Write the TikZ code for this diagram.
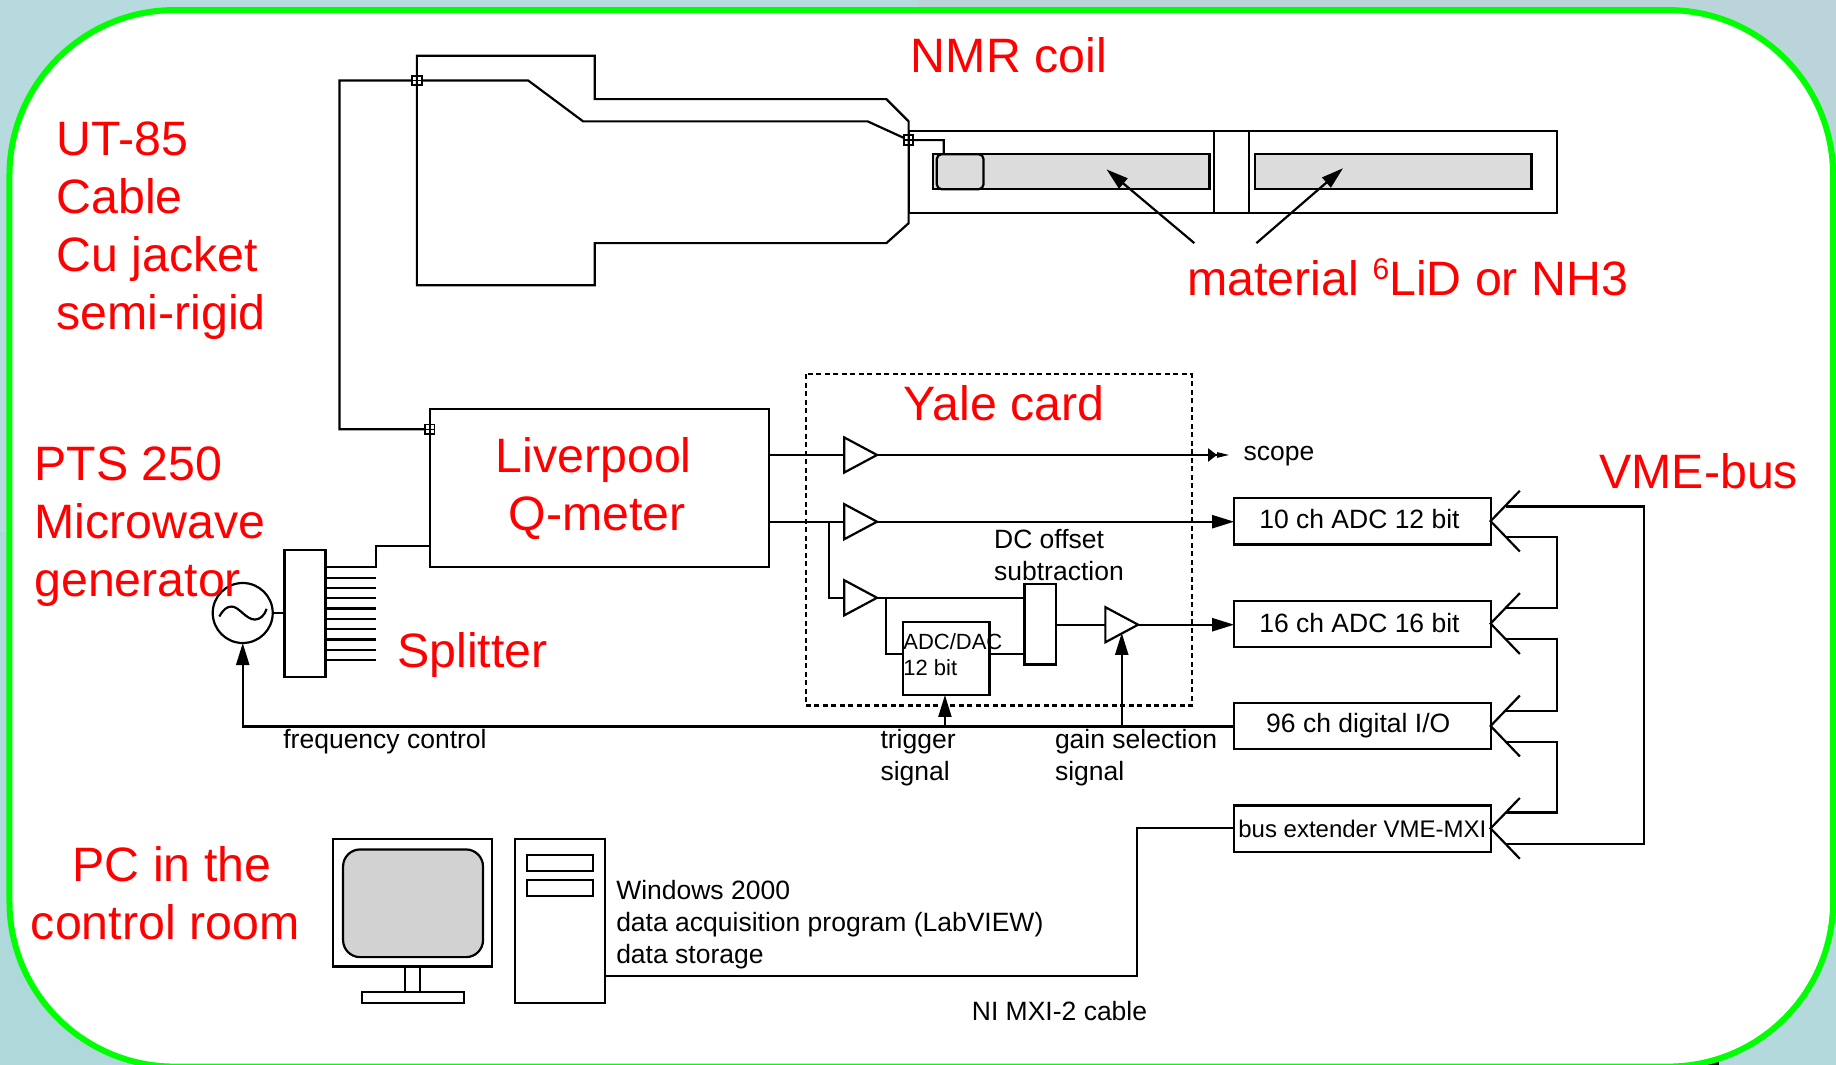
\documentclass[tikz,border=0pt]{standalone}
\usepackage{fontspec}
\setmainfont{Liberation Sans}
\usetikzlibrary{arrows.meta,fit}
\definecolor{bgtl}{HTML}{B6DADD}
\definecolor{bgtr}{HTML}{BBD4DA}
\definecolor{bgbl}{HTML}{AED8DA}
\definecolor{bgbr}{HTML}{B3D9DC}
\definecolor{pure}{RGB}{0,255,0}
\definecolor{targetgrey}{HTML}{DCDCDC}
\definecolor{screengrey}{HTML}{D2D2D2}
\tikzset{
  ln/.style={draw=black,line width=2.2pt,line join=miter},
  arr/.style={ln,-{Triangle[length=22pt,width=13pt]}},
  blk/.style={ln,fit={#1},inner sep=0pt,outer sep=0pt,rectangle},
  conn/.style={rectangle,draw=black,line width=1.8pt,minimum size=9.5pt,inner sep=0pt,outer sep=0pt,
    path picture={\draw[line width=1.4pt] (path picture bounding box.north)--(path picture bounding box.south)
      (path picture bounding box.west)--(path picture bounding box.east);}},
  redt/.style={text=red,inner sep=0pt,outer sep=0pt,align=left,anchor=base west,font=\fontsize{48.3}{58}\selectfont},
  blkt/.style={text=black,inner sep=0pt,outer sep=0pt,align=left,anchor=base west,font=\fontsize{26.5}{32}\selectfont},
  modt/.style={text=black,inner sep=0pt,outer sep=0pt,anchor=base,font=\fontsize{26.5}{32}\selectfont}
}
\begin{document}
\begin{tikzpicture}[x=1.17092pt,y=-1.17052pt]
\clip (0,-0.7) rectangle (1568,908.3);
\fill[bgtl] (0,-1) rectangle (784,454);
\fill[bgtr] (784,-1) rectangle (1568,454);
\fill[bgbl] (0,454) rectangle (784,909);
\fill[bgbr] (784,454) rectangle (1568,909);
\fill[black] (1452,909) -- (1468,909) -- (1468,901) -- cycle;
\draw[pure,line width=6pt,fill=white,rounded corners=165pt] (8.1,7.9) rectangle (1565.5,910.5);

% NMR cable outline
\draw[ln] (356,47) -- (508,47) -- (508,84) -- (757,84) -- (776,103) -- (776,190) -- (757,207) -- (508,207) -- (508,243) -- (356,243) -- cycle;
% target holder
\node[blk={(776,111)(1330,181)}] (holder) {};
\draw[ln] (1037,111) -- (1037,181) (1067,111) -- (1067,181);
\node[blk={(797,131)(1033,161)},fill=targetgrey] (target1) {};
\node[blk={(1072,131)(1308,161)},fill=targetgrey] (target2) {};
\node[ln,fit={(800,131)(840,161)},inner sep=0pt,outer sep=0pt,rectangle,rounded corners=5pt,fill=targetgrey] (coil) {};

% Q-meter, splitter, generator
\node[blk={(367,349)(657,484)}] (qm) {};
\node[blk={(243,469)(278,578)}] (split) {};
\node[circle,draw=black,line width=2.2pt,minimum size=60pt,inner sep=0pt,outer sep=0pt] (gen) at (207.3,523) {};
\draw[line width=2.2pt] (187.3,526) .. controls (191,519.5) and (194,517.5) .. (198,517.5) .. controls (204,517.5) and (210,528.6) .. (217.8,528.6) .. controls (222,528.6) and (226,525) .. (227.7,519.5);

% connectors to coil
\node[conn] (c1) at (356,68) {};
\node[conn] (c2) at (776,119) {};
\node[conn] (c3) at (367,366) {};
\draw[ln] (c3) -- (290,366) -- (290,68) -- (c1) -- (451,68) -- (498,103) -- (741,103) -- (c2) -- (806,119) -- (806,131);

% pointer arrows
\coordinate (m1) at (1020,207);
\coordinate (m2) at (1073,207);
\coordinate (t1) at (945,144);
\coordinate (t2) at (1147,143);
\draw[arr] (m1) -- (t1);
\draw[arr] (m2) -- (t2);

% splitter fan
\draw[ln] (gen.east) -- (gen.east -| split.west);
\draw[ln] (278,484) -- (321,484) -- (321,466) -- (qm.west |- 321,466);
\foreach \yy in {492.8,501.6,510.4,519.2,528,536.8,545.6,554.4,563.2}
  \draw[ln] (278,\yy) -- (321,\yy);

% Yale card
\draw[ln,dash pattern=on 5pt off 3.5pt] (688,319) rectangle (1018,602);
\coordinate (a1i) at (721,388); \coordinate (a1o) at (749,388);
\coordinate (a2i) at (721,445); \coordinate (a2o) at (749,445);
\coordinate (a3i) at (721,510); \coordinate (a3o) at (749,510);
\coordinate (a4i) at (944,533); \coordinate (a4o) at (972,533);
\draw[ln] (721,373) -- (749,388) -- (721,403) -- cycle;
\draw[ln] (721,430) -- (749,445) -- (721,460) -- cycle;
\draw[ln] (721,495) -- (749,510) -- (721,525) -- cycle;
\draw[ln] (944,518) -- (972,533) -- (944,548) -- cycle;

\node[blk={(771,531)(845,593)}] (adc) {};
\node[blk={(875,498)(902,567)}] (dc) {};

% modules
\node[blk={(1054,424.5)(1273,464.5)}] (m10) {};
\node[blk={(1054,512.5)(1273,552)}] (m16) {};
\node[blk={(1054,600)(1273,639)}] (m96) {};
\node[blk={(1054,687.5)(1273,727)}] (mbus) {};
\node[modt] (t10) at (1161,450.5) {10 ch ADC 12 bit};
\node[modt] (t16) at (1161,540) {16 ch ADC 16 bit};
\node[modt] (t96) at (1160,625.5) {96 ch digital I/O};
\node[modt,font=\fontsize{24}{29}\selectfont] (tbus) at (1163.5,714.5) {bus extender VME-MXI};

% signal lines
\coordinate (scopeend) at (1050.5,388);
\draw[ln] (qm.east |- a1i) -- (a1i);
\draw[ln,-{Triangle[length=9pt,width=13pt]Triangle[length=13pt,width=5pt]}] (a1o) -- (scopeend);
\draw[ln] (qm.east |- a2i) -- (a2i);
\draw[arr] (a2o) -- (m10.west |- a2o);
\draw[ln] (708,445) -- (708,510) -- (a3i);
\draw[ln] (a3o) -- (dc.west |- a3o);
\draw[ln] (757,510) -- (757,558) -- (adc.west |- 757,558);
\draw[ln] (adc.east |- 845,558) -- (dc.west |- 845,558);
\draw[ln] (dc.east |- a4i) -- (a4i);
\draw[arr] (a4o) -- (m16.west |- a4o);
\coordinate (ctrl1) at (807,620);
\coordinate (ctrl2) at (958,620);
\draw[arr] (m96.west |- ctrl1) -- (207.3,620) -- (gen.south);
\draw[arr] (ctrl1) -- (adc.south -| ctrl1);
\draw[arr] (ctrl2) -- (958,540);

% VME bus
\foreach \n/\yy in {m10/444.5,m16/532,m96/619.5,mbus/707}
  \draw[ln] (1298,\yy-26) -- (1273,\yy) -- (1298,\yy+26);
\draw[ln] (1286,458) -- (1330,458) -- (1330,519) -- (1286,519);
\draw[ln] (1286,545.5) -- (1330,545.5) -- (1330,606.5) -- (1286,606.5);
\draw[ln] (1286,633) -- (1330,633) -- (1330,693.5) -- (1286,693.5);
\draw[ln] (1286,432) -- (1404,432) -- (1404,720) -- (1286,720);

% PC
\draw[ln] (284.6,716) rectangle (420,825);
\draw[ln,fill=screengrey,rounded corners=17pt] (293,725) rectangle (412.5,817);
\draw[ln] (346,825) rectangle (359,847);
\draw[ln] (309,847) rectangle (396.6,856);
\node[blk={(440,716)(516.7,856)}] (pc) {};
\draw[ln] (450,730) rectangle (506.6,743.6);
\draw[ln] (450,751) rectangle (506.6,764.5);
\draw[ln] (pc.east |- 517,833) -- (971,833) -- (971,707) -- (mbus.west |- 971,707);

% red labels
\node[redt] (lcoil) at (778,61.3) {NMR coil};
\node[redt] (lcable) at (48.3,280.8) {UT-85\\Cable\\Cu jacket\\semi-rigid};
\node[redt] (lmat) at (1014,252) {material \raisebox{16pt}{\fontsize{30}{36}\selectfont 6}LiD or NH3};
\node[redt] (lyale) at (772,358.5) {Yale card};
\node[redt,align=center,anchor=base] (lqm) at (507,452.5) {Liverpool\\\hspace*{7pt}Q-meter};
\node[redt] (lvme) at (1366,416.5) {VME-bus};
\node[redt] (lpts) at (29.3,509.3) {PTS 250\\Microwave\\generator};
\node[redt] (lsplit) at (339.3,569.3) {Splitter};
\node[redt,align=center,anchor=base] (lpc) at (141,802) {\hspace*{14pt}PC in the\\control room};

% black labels
\node[blkt] (lscope) at (1062,392.3) {scope};
\node[blkt] (ldc) at (849,495) {DC offset\\subtraction};
\node[blkt,font=\fontsize{22}{26}\selectfont] (ladc) at (771.5,576) {ADC/DAC\\12 bit};
\node[blkt] (lfreq) at (242,638.8) {frequency control};
\node[blkt] (ltrig) at (752,666) {trigger\\signal};
\node[blkt] (lgain) at (901,666) {gain selection\\signal};
\node[blkt] (lwin) at (526.3,822.6) {Windows 2000\\data acquisition program (LabVIEW)\\data storage};
\node[blkt] (lmxi) at (830,871.3) {NI MXI-2 cable};
\end{tikzpicture}
\end{document}
